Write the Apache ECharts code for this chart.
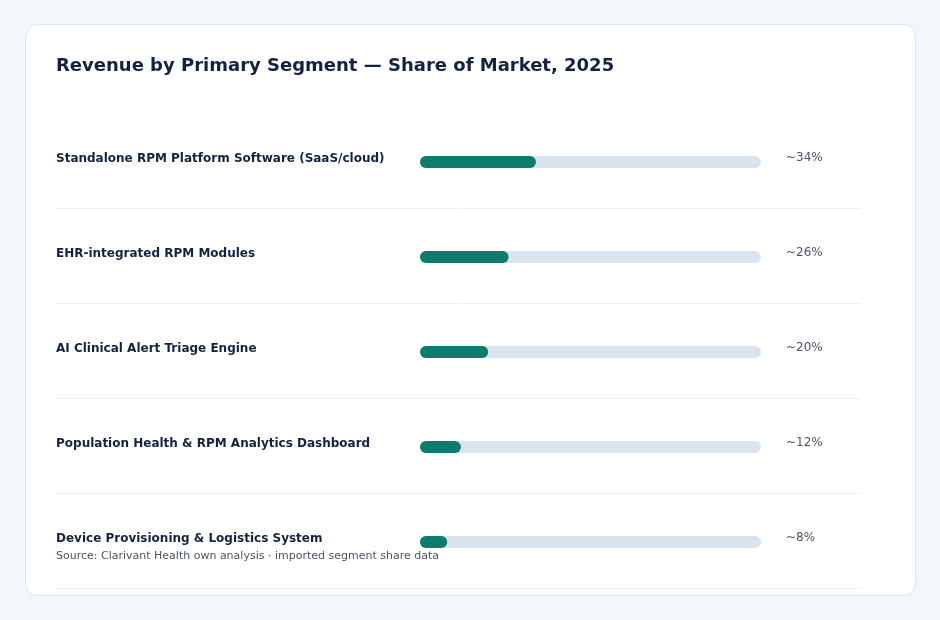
<!DOCTYPE html>
<html>
<head>
<meta charset="utf-8">
<script src="https://cdn.jsdelivr.net/npm/echarts@6/dist/echarts.min.js"></script>
<style>
  html, body { margin: 0; padding: 0; background: #f4f7fa; }
  #chart { width: 940px; height: 620px; }
</style>
</head>
<body>
<div id="chart"></div>
<script>
// segment names and share of market (%), top to bottom
var segments = [
  'Standalone RPM Platform Software (SaaS/cloud)',
  'EHR-integrated RPM Modules',
  'AI Clinical Alert Triage Engine',
  'Population Health & RPM Analytics Dashboard',
  'Device Provisioning & Logistics System'
];
var shares = [34, 26, 20, 12, 8];
var shareLabels = ['~34%', '~26%', '~20%', '~12%', '~8%'];
var trackMax = 100;

var chart = echarts.init(document.getElementById('chart'));
var font = 'DejaVu Sans, sans-serif';

var option = {
  backgroundColor: '#f4f7fa',
  animation: false,
  title: {
    text: 'Revenue by Primary Segment \u2014 Share of Market, 2025',
    left: 56,
    top: 57,
    padding: 0,
    textStyle: { fontFamily: font, fontSize: 18, fontWeight: 'bold', color: '#13233f' }
  },
  graphic: [
    {
      type: 'rect', z: -10,
      shape: { x: 25.5, y: 24.5, width: 890, height: 571, r: 12 },
      style: { fill: '#ffffff', stroke: '#dde3ea', lineWidth: 1 }
    },
    {
      type: 'text', left: 56, top: 551,
      style: {
        text: 'Source: Clarivant Health own analysis \u00b7 imported segment share data',
        font: '11px DejaVu Sans, sans-serif', fill: '#4a5568'
      }
    }
  ],
  grid: [
    { left: 420, right: 179, top: 114.5, height: 475 },
    { left: 56, right: 79, top: 114.5, height: 475 }
  ],
  xAxis: [
    { gridIndex: 0, type: 'value', min: 0, max: trackMax, show: false },
    { gridIndex: 1, type: 'value', min: 0, max: 1, show: false }
  ],
  yAxis: [
    {
      gridIndex: 0, type: 'category', data: segments, inverse: true,
      axisLine: { show: false }, axisTick: { show: false },
      axisLabel: {
        align: 'left', margin: 364, verticalAlign: 'bottom', lineHeight: 6,
        fontFamily: font, fontSize: 12, fontWeight: 'bold', color: '#13233f'
      }
    },
    {
      gridIndex: 1, type: 'category', data: segments, inverse: true, show: false
    }
  ],
  series: [
    {
      type: 'bar', xAxisIndex: 0, yAxisIndex: 0,
      data: segments.map(function () { return trackMax; }),
      barWidth: 12, barGap: '-100%', silent: true,
      itemStyle: { color: '#dae4ee', borderRadius: 6 },
      label: {
        show: true, position: 'right', distance: 25, offset: [0, -4],
        formatter: function (p) { return shareLabels[p.dataIndex]; },
        fontFamily: font, fontSize: 12, color: '#4a5568'
      }
    },
    {
      type: 'bar', xAxisIndex: 0, yAxisIndex: 0,
      data: shares,
      barWidth: 12, barGap: '-100%',
      itemStyle: { color: '#0d7b6e', borderRadius: 6 }
    },
    {
      type: 'custom', xAxisIndex: 1, yAxisIndex: 1,
      data: segments.map(function (s, i) { return [0, i]; }),
      renderItem: function (params, api) {
        var pt = api.coord([0, api.value(1)]);
        var h = api.size([0, 1])[1];
        var y = Math.round(pt[1] + h / 2 - 2) + 0.5;
        return {
          type: 'line',
          shape: { x1: params.coordSys.x, y1: y, x2: params.coordSys.x + params.coordSys.width, y2: y },
          style: { stroke: '#edf0f4', lineWidth: 1 }
        };
      }
    }
  ]
};

chart.setOption(option);
</script>
</body>
</html>
